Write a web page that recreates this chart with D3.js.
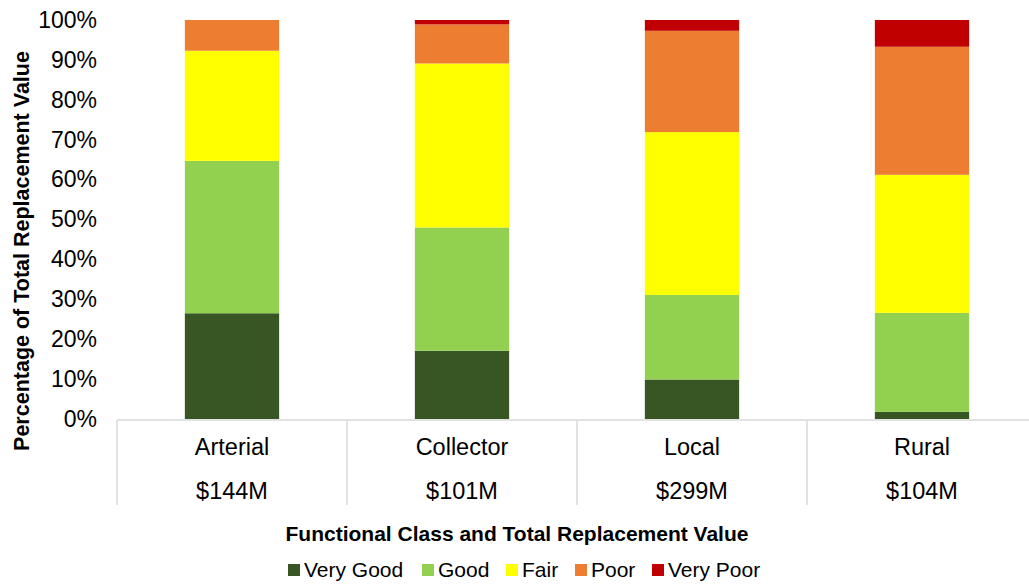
<!DOCTYPE html>
<html>
<head>
<meta charset="utf-8">
<script src="https://cdn.jsdelivr.net/npm/d3@7/dist/d3.min.js"></script>
<style>
  html, body { margin: 0; padding: 0; background: #fff; }
  svg { display: block; font-family: Arial, "Liberation Sans", sans-serif; }
</style>
</head>
<body>
<svg id="chart" width="1029" height="586"></svg>
<script>
// Functional classes with their total replacement value
const categories = ["Arterial", "Collector", "Local", "Rural"];
const totals = ["$144M", "$101M", "$299M", "$104M"];

// Condition shares (% of total replacement value) per class
const veryGood = [26.5, 17.1, 9.9, 1.8];
const good     = [38.2, 30.9, 21.2, 24.8];
const fair     = [27.6, 41.1, 40.8, 34.6];
const poor     = [7.7, 9.8, 25.4, 32.1];
const veryPoor = [0.0, 1.1, 2.7, 6.7];

const seriesNames = ["Very Good", "Good", "Fair", "Poor", "Very Poor"];
const seriesColors = ["#375623", "#92d050", "#ffff00", "#ed7d31", "#c00000"];
const yTicks = [0, 10, 20, 30, 40, 50, 60, 70, 80, 90, 100];

const rows = categories.map((c, i) => ({
  category: c,
  "Very Good": veryGood[i],
  "Good": good[i],
  "Fair": fair[i],
  "Poor": poor[i],
  "Very Poor": veryPoor[i]
}));

const svg = d3.select("#chart");
const plot = { left: 117, right: 1037, top: 20, bottom: 419 };

const x = d3.scaleBand()
  .domain(categories)
  .range([plot.left, plot.right])
  .paddingInner(0)
  .paddingOuter(0);

const y = d3.scaleLinear().domain([0, 100]).range([plot.bottom, plot.top]);

const color = d3.scaleOrdinal().domain(seriesNames).range(seriesColors);

const stacked = d3.stack().keys(seriesNames)(rows);

const barW = x.bandwidth() * 0.41;

// Stacked bars
svg.append("g")
  .selectAll("g")
  .data(stacked)
  .join("g")
  .attr("fill", d => color(d.key))
  .selectAll("rect")
  .data(d => d)
  .join("rect")
  .attr("x", d => x(d.data.category) + (x.bandwidth() - barW) / 2)
  .attr("y", d => y(d[1]))
  .attr("width", barW)
  .attr("height", d => Math.max(0, y(d[0]) - y(d[1])));

// Y axis labels
const yAxis = d3.axisLeft(y)
  .tickValues(yTicks)
  .tickFormat(d => d + "%")
  .tickSize(0)
  .tickPadding(20);
const yg = svg.append("g").attr("transform", `translate(${plot.left},0)`).call(yAxis);
yg.select(".domain").remove();
yg.selectAll("text")
  .attr("fill", "#000")
  .style("font-size", "23px")
  .style("font-family", "Arial, 'Liberation Sans', sans-serif");

// Category axis: baseline plus separators forming a table below
const grid = svg.append("g").attr("stroke", "#d9d9d9").attr("stroke-width", 1.5);
grid.append("line")
  .attr("x1", plot.left).attr("x2", plot.right)
  .attr("y1", plot.bottom + 1).attr("y2", plot.bottom + 1);
const bounds = categories.map(c => x(c)).concat([plot.right]);
grid.selectAll("line.sep")
  .data(bounds)
  .join("line")
  .attr("class", "sep")
  .attr("x1", d => d).attr("x2", d => d)
  .attr("y1", plot.bottom + 1).attr("y2", 505);

const labels = svg.append("g")
  .attr("text-anchor", "middle")
  .style("font-size", "23.5px")
  .attr("fill", "#000");
labels.selectAll("text.cat")
  .data(categories)
  .join("text")
  .attr("class", "cat")
  .attr("x", d => x(d) + x.bandwidth() / 2)
  .attr("y", 455)
  .text(d => d);
labels.selectAll("text.tot")
  .data(totals)
  .join("text")
  .attr("class", "tot")
  .attr("x", (d, i) => x(categories[i]) + x.bandwidth() / 2)
  .attr("y", 499)
  .text(d => d);

// Axis titles
svg.append("text")
  .attr("x", 517)
  .attr("y", 541)
  .attr("text-anchor", "middle")
  .style("font-size", "21px")
  .style("font-weight", "bold")
  .text("Functional Class and Total Replacement Value");

svg.append("text")
  .attr("transform", "translate(29,251) rotate(-90)")
  .attr("text-anchor", "middle")
  .style("font-size", "21.5px")
  .style("font-weight", "bold")
  .text("Percentage of Total Replacement Value");

// Legend
const legendX = [288, 422, 506, 575, 652];
const legend = svg.append("g");
const items = legend.selectAll("g")
  .data(seriesNames)
  .join("g")
  .attr("transform", (d, i) => `translate(${legendX[i]},564)`);
items.append("rect")
  .attr("width", 12).attr("height", 12)
  .attr("fill", d => color(d));
items.append("text")
  .attr("x", 16)
  .attr("y", 13)
  .style("font-size", "21px")
  .text(d => d);
</script>
</body>
</html>
